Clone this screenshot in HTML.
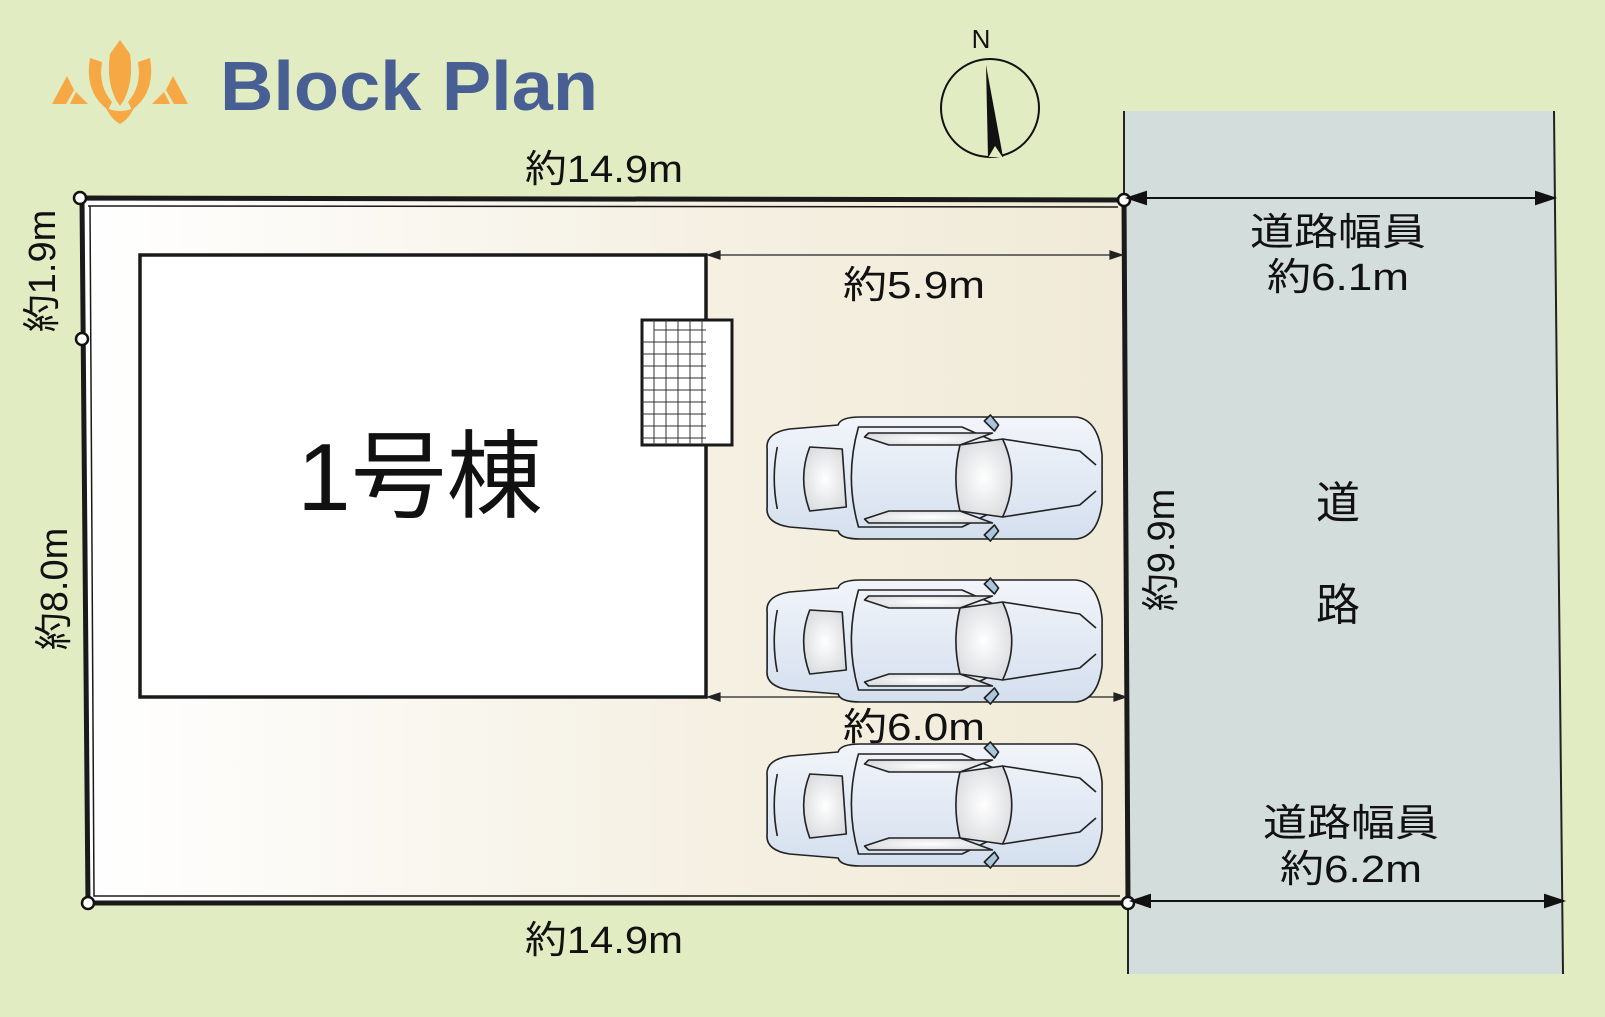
<!DOCTYPE html>
<html><head><meta charset="utf-8"><style>
html,body{margin:0;padding:0;background:#e2ecc3;}
svg{display:block}
text{font-family:"Liberation Sans","Noto Sans CJK JP",sans-serif;}
</style></head><body>
<svg width="1605" height="1017" viewBox="0 0 1605 1017" xmlns="http://www.w3.org/2000/svg">
<defs>
<linearGradient id="lot" x1="0" x2="1" y1="0" y2="0">
<stop offset="0" stop-color="#ffffff"/><stop offset="0.6" stop-color="#f5f0e2"/><stop offset="1" stop-color="#f0ead7"/>
</linearGradient>
<radialGradient id="glass" cx="0.5" cy="0.5" r="0.6"><stop offset="0" stop-color="#ffffff"/><stop offset="1" stop-color="#d8dadd"/></radialGradient>
<linearGradient id="body" x1="0" y1="0" x2="0" y2="1"><stop offset="0" stop-color="#f2f5fa"/><stop offset="1" stop-color="#d4dfee"/></linearGradient>
<g id="car" stroke="#222" stroke-width="1.6" stroke-linejoin="round">
<path d="M8 34 Q6 18 30 14 L78 10 Q80 2 100 2 L312 2 Q334 4 338 40 L338 88 Q334 122 312 124 L100 124 Q80 124 78 116 L30 112 Q6 108 8 92 Z" fill="url(#body)"/>
<path d="M98 12 L200 12 L240 30 L232 96 L200 112 L98 112 Q84 62 98 12 Z" fill="none"/>
<path d="M18 32 Q12 63 18 94" fill="none"/>
<path d="M50 32 L82 34 L86 92 L50 96 Q38 63 50 32 Z" fill="url(#glass)"/>
<path d="M198 30 L240 24 Q258 63 240 102 L198 96 Q190 63 198 30 Z" fill="url(#glass)"/>
<path d="M108 18 L230 18 L198 30 L128 30 L104 22 Z" fill="url(#glass)"/>
<path d="M108 108 L230 108 L198 96 L128 96 L104 104 Z" fill="url(#glass)"/>
<path d="M240 24 L316 36 L332 50 M240 102 L316 90 L332 76" fill="none"/>
<path d="M222 6 L228 0 L236 10 L232 16 Z M222 120 L228 126 L236 116 L232 110 Z" fill="#a9c6dc"/>
</g>
</defs>
<rect width="1605" height="1017" fill="#e2ecc3"/>
<polygon points="1124,111 1554,111 1563,974 1128,974" fill="#d3dddc"/>
<line x1="1554" y1="111" x2="1563" y2="974" stroke="#222" stroke-width="2"/>
<line x1="1124" y1="111" x2="1124" y2="200" stroke="#222" stroke-width="2"/>
<line x1="1128" y1="903" x2="1128" y2="974" stroke="#222" stroke-width="2"/>
<polygon points="82,198 1124,200 1128,903 88,903" fill="url(#lot)" stroke="#1a1a1a" stroke-width="5"/>
<polyline points="88,206 1118,207" fill="none" stroke="#1a1a1a" stroke-width="1.5"/>
<polyline points="90,206 94,896 1120,896" fill="none" stroke="#1a1a1a" stroke-width="1.5"/>
<g fill="#fff" stroke="#111" stroke-width="2.5">
<circle cx="80" cy="198" r="6"/><circle cx="82" cy="339" r="6"/><circle cx="88" cy="903" r="6"/><circle cx="1124" cy="200" r="6"/><circle cx="1128" cy="903" r="6"/>
</g>
<rect x="140" y="255" width="566" height="442" fill="#fff" stroke="#1a1a1a" stroke-width="3.5"/>
<g stroke="#333" stroke-width="1">
<rect x="642" y="320" width="90" height="125" fill="#fff" stroke="#1a1a1a" stroke-width="3"/>
<path d="M654 320V445M666 320V445M678 320V445M690 320V445M702 320V445M654 330H706M642 342H706M642 354H706M642 366H706M642 378H706M642 390H706M642 402H706M642 414H706M642 426H706M642 438H706"/>
</g>
<text x="420" y="510" font-size="96" text-anchor="middle" fill="#111">1号棟</text>
<g stroke="#222" stroke-width="1.2" fill="#222">
<line x1="708" y1="255" x2="1122" y2="255"/>
<path d="M708 255 l12 -4 v8 z M1122 255 l-12 -4 v8 z"/>
<line x1="708" y1="697" x2="1126" y2="697"/>
<path d="M708 697 l12 -4 v8 z M1126 697 l-12 -4 v8 z"/>
</g>
<g stroke="#111" stroke-width="2" fill="#111">
<line x1="1128" y1="198" x2="1554" y2="198"/>
<path d="M1128 198 l18 -6 v12 z M1554 198 l-18 -6 v12 z"/>
<line x1="1132" y1="901" x2="1563" y2="901"/>
<path d="M1132 901 l18 -6 v12 z M1563 901 l-18 -6 v12 z"/>
</g>
<use href="#car" transform="translate(759,415) scale(1.015,1)"/>
<use href="#car" transform="translate(759,578) scale(1.015,1)"/>
<use href="#car" transform="translate(759,742) scale(1.015,1)"/>
<circle cx="990" cy="108" r="49" fill="none" stroke="#111" stroke-width="2"/>
<path d="M986 65 L1003 157 L988 157 Z" fill="#111"/>
<path d="M988 157 L995 145 L1003 157" fill="#e2ecc3" stroke="#111" stroke-width="1"/>
<text x="981" y="48" font-size="26" text-anchor="middle" fill="#111">N</text>
<text x="220" y="110" font-size="70" font-weight="bold" fill="#485f93" textLength="378" lengthAdjust="spacingAndGlyphs">Block Plan</text>
<g fill="#f5a843">
<path d="M120 40 L130 54 Q134 80 124 100 L120 106 L116 100 Q106 80 110 54 Z"/>
<path d="M90 58 Q84 92 108 110 L112 102 Q98 86 102 62 Z"/>
<path d="M150 58 Q156 92 132 110 L128 102 Q142 86 138 62 Z"/>
<path d="M106 108 Q112 120 120 124 Q128 120 134 108 Q120 114 106 108 Z"/>
<path d="M67 76 L74 90 L66 104 L52 104 Z M76 92 L88 104 L70 104 Z"/>
<path d="M173 76 L166 90 L174 104 L188 104 Z M164 92 L152 104 L170 104 Z"/>
</g>
<g fill="#111" font-size="38" text-anchor="middle">
<text x="604" y="182" textLength="158" lengthAdjust="spacingAndGlyphs">約14.9m</text>
<text x="604" y="953" textLength="158" lengthAdjust="spacingAndGlyphs">約14.9m</text>
<text x="914" y="298" textLength="142" lengthAdjust="spacingAndGlyphs">約5.9m</text>
<text x="914" y="740" textLength="142" lengthAdjust="spacingAndGlyphs">約6.0m</text>
<text x="1338" y="245" textLength="176" lengthAdjust="spacingAndGlyphs">道路幅員</text>
<text x="1338" y="290" textLength="142" lengthAdjust="spacingAndGlyphs">約6.1m</text>
<text x="1351" y="836" textLength="176" lengthAdjust="spacingAndGlyphs">道路幅員</text>
<text x="1351" y="882" textLength="142" lengthAdjust="spacingAndGlyphs">約6.2m</text>
<text x="1338" y="518" font-size="44">道</text>
<text x="1338" y="620" font-size="44">路</text>
<text transform="translate(55,271) rotate(-90)">約1.9m</text>
<text transform="translate(67,589) rotate(-90)">約8.0m</text>
<text transform="translate(1174,550) rotate(-90)">約9.9m</text>
</g>
</svg>
</body></html>
